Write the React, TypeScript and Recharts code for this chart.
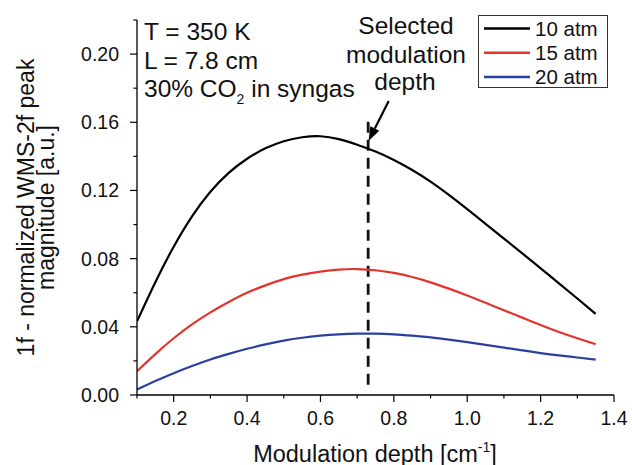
import React from "react";
import {
  LineChart,
  Line,
  XAxis,
  YAxis,
  ReferenceLine,
  Legend,
  Customized,
} from "recharts";

const depth = [
  0.1, 0.15, 0.2, 0.25, 0.3, 0.35, 0.4, 0.45, 0.5, 0.55, 0.6, 0.65, 0.7, 0.75,
  0.8, 0.85, 0.9, 0.95, 1.0, 1.05, 1.1, 1.15, 1.2, 1.25, 1.3, 1.35,
];
const atm10 = [
  0.0432, 0.0662, 0.087, 0.1048, 0.1192, 0.1303, 0.1386, 0.1447, 0.1489,
  0.1512, 0.1518, 0.1501, 0.1468, 0.1428, 0.1379, 0.132, 0.1252, 0.1174,
  0.109, 0.1004, 0.0918, 0.0831, 0.0743, 0.0655, 0.0566, 0.0476,
];
const atm15 = [
  0.0139, 0.024, 0.0333, 0.0414, 0.0485, 0.0546, 0.06, 0.0643, 0.068,
  0.0706, 0.0724, 0.0736, 0.0739, 0.0732, 0.0716, 0.0692, 0.0661, 0.0624,
  0.0584, 0.0541, 0.0497, 0.0454, 0.0411, 0.037, 0.0333, 0.0298,
];
const atm20 = [
  0.0032, 0.0082, 0.0128, 0.017, 0.0208, 0.0241, 0.0271, 0.0297, 0.0319,
  0.0336, 0.0348, 0.0356, 0.036, 0.036, 0.0356, 0.0348, 0.0338, 0.0325,
  0.031, 0.0294, 0.0278, 0.0262, 0.0246, 0.0232, 0.022, 0.0208,
];

const seriesNames = ["10 atm", "15 atm", "20 atm"];
const seriesColors = ["#000000", "#e3342b", "#2b3f9e"];

const yTicks = [0, 0.02, 0.04, 0.06, 0.08, 0.1, 0.12, 0.14, 0.16, 0.18, 0.2, 0.22];
const xTicks = [0.1, 0.2, 0.3, 0.4, 0.5, 0.6, 0.7, 0.8, 0.9, 1.0, 1.1, 1.2, 1.3, 1.4];

const selectedDepth = 0.73;
const dashFrom = 0.006;
const dashTo = 0.164;
const arrowStart = { x: 0.786, y: 0.1725 };
const arrowEnd = { x: 0.731, y: 0.149 };

const data = depth.map((d, i) => ({
  x: d,
  a10: atm10[i],
  a15: atm15[i],
  a20: atm20[i],
}));

const FONT = "'Liberation Sans', Arial, Helvetica, sans-serif";

const YTick = (props: any) => {
  const { x, y, payload } = props;
  const v = payload.value as number;
  const major = Math.round(v / 0.02) % 2 === 0 && v < 0.21;
  return (
    <g>
      <line x1={x} x2={x - (major ? 7 : 3.5)} y1={y} y2={y} stroke="#000" strokeWidth={1.2} />
      {major && (
        <text
          x={x - 18}
          y={y}
          textAnchor="end"
          dominantBaseline="central"
          fontSize={19.5}
          fontFamily={FONT}
          fill="#111"
        >
          {v.toFixed(2)}
        </text>
      )}
    </g>
  );
};

const XTick = (props: any) => {
  const { x, y, payload } = props;
  const v = payload.value as number;
  const major = Math.round(v * 10) % 2 === 0;
  return (
    <g>
      <line x1={x} x2={x} y1={y} y2={y + (major ? 7 : 3.5)} stroke="#000" strokeWidth={1.2} />
      {major && (
        <text
          x={x}
          y={y + 23}
          textAnchor="middle"
          dominantBaseline="central"
          fontSize={19.5}
          fontFamily={FONT}
          fill="#111"
        >
          {v.toFixed(1)}
        </text>
      )}
    </g>
  );
};

const Arrow = (props: any) => {
  const { x1, y1, x2, y2 } = props;
  const dx = x2 - x1;
  const dy = y2 - y1;
  const len = Math.sqrt(dx * dx + dy * dy) || 1;
  const ux = dx / len;
  const uy = dy / len;
  const headLen = 14;
  const headW = 5;
  const bx = x2 - ux * headLen;
  const by = y2 - uy * headLen;
  const px = -uy;
  const py = ux;
  return (
    <g>
      <line x1={x1} y1={y1} x2={bx} y2={by} stroke="#000" strokeWidth={2.2} />
      <polygon
        points={`${x2},${y2} ${bx + px * headW},${by + py * headW} ${bx - px * headW},${by - py * headW}`}
        fill="#000"
      />
    </g>
  );
};

const Annotations = () => (
  <g fontFamily={FONT} fill="#111">
    <text x={144} y={39.5} fontSize={24.5}>T = 350 K</text>
    <text x={144} y={68.5} fontSize={24.5}>L = 7.8 cm</text>
    <text x={144} y={97} fontSize={24.5}>
      30% CO
      <tspan fontSize={14} dy={7}>2</tspan>
      <tspan dy={-7}> in syngas</tspan>
    </text>
    <text x={406} y={33.5} fontSize={24.5} textAnchor="middle">Selected</text>
    <text x={406} y={63} fontSize={24.5} textAnchor="middle">modulation</text>
    <text x={405} y={89.5} fontSize={24.5} textAnchor="middle">depth</text>
    <text
      x={33.5}
      y={207.5}
      fontSize={23}
      textAnchor="middle"
      transform="rotate(-90 33.5 207.5)"
    >
      1f - normalized WMS-2f peak
    </text>
    <text
      x={54}
      y={207.5}
      fontSize={23}
      textAnchor="middle"
      transform="rotate(-90 54 207.5)"
    >
      magnitude [a.u.]
    </text>
    <text x={375} y={461.5} fontSize={23.5} textAnchor="middle">
      Modulation depth [cm
      <tspan fontSize={14} dy={-10}>-1</tspan>
      <tspan dy={10}>]</tspan>
    </text>
  </g>
);

const LegendBox = () => (
  <div
    style={{
      width: 130,
      height: 73,
      border: "1px solid #333",
      background: "#fff",
      boxSizing: "border-box",
      fontFamily: FONT,
      overflow: "hidden",
    }}
  >
    <svg width={128} height={71} style={{ display: "block" }}>
      {seriesNames.map((n, i) => (
        <g key={n}>
          <line
            x1={5}
            x2={51}
            y1={12.5 + i * 24.2}
            y2={12.5 + i * 24.2}
            stroke={seriesColors[i]}
            strokeWidth={2.5}
          />
          <text
            x={56}
            y={12.5 + i * 24.2}
            dominantBaseline="central"
            fontSize={20.5}
            fontFamily={FONT}
            fill="#111"
          >
            {n}
          </text>
        </g>
      ))}
    </svg>
  </div>
);

export default function App() {
  return (
    <div style={{ position: "absolute", left: 0, top: 0, background: "#fff" }}>
      <LineChart
        width={632}
        height={465}
        data={data}
        margin={{ top: 20, right: 18, bottom: 0, left: 0 }}
      >
        <XAxis
          dataKey="x"
          type="number"
          domain={[0.1, 1.4]}
          ticks={xTicks}
          interval={0}
          height={70}
          tickSize={0}
          tickMargin={0}
          tickLine={false}
          tick={<XTick />}
          axisLine={{ stroke: "#000", strokeWidth: 1.3 }}
          allowDataOverflow
        />
        <YAxis
          type="number"
          domain={[0, 0.22]}
          ticks={yTicks}
          interval={0}
          width={137}
          tickSize={0}
          tickMargin={0}
          tickLine={false}
          tick={<YTick />}
          axisLine={{ stroke: "#000", strokeWidth: 1.3 }}
          allowDataOverflow
        />
        <Legend
          layout="horizontal"
          verticalAlign="middle"
          align="center"
          wrapperStyle={{ position: "absolute", left: 478, top: 15, width: 130, height: 73 }}
          content={<LegendBox />}
        />
        <ReferenceLine
          segment={[
            { x: selectedDepth, y: dashFrom },
            { x: selectedDepth, y: dashTo },
          ]}
          stroke="#111"
          strokeWidth={2.8}
          strokeDasharray="11 7"
        />
        <ReferenceLine
          segment={[arrowStart, arrowEnd]}
          shape={(p: any) => <Arrow {...p} />}
        />
        <Line
          dataKey="a10"
          name={seriesNames[0]}
          stroke={seriesColors[0]}
          strokeWidth={2.2}
          type="natural"
          dot={false}
          isAnimationActive={false}
        />
        <Line
          dataKey="a15"
          name={seriesNames[1]}
          stroke={seriesColors[1]}
          strokeWidth={2.2}
          type="natural"
          dot={false}
          isAnimationActive={false}
        />
        <Line
          dataKey="a20"
          name={seriesNames[2]}
          stroke={seriesColors[2]}
          strokeWidth={2.2}
          type="natural"
          dot={false}
          isAnimationActive={false}
        />
        <Customized component={Annotations} />
      </LineChart>
    </div>
  );
}
